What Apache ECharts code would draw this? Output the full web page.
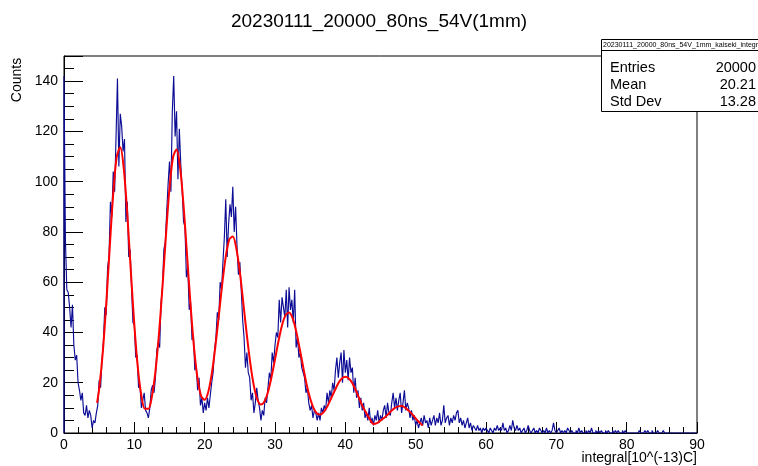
<!DOCTYPE html>
<html>
<head>
<meta charset="utf-8">
<script src="https://cdn.jsdelivr.net/npm/echarts@6/dist/echarts.min.js"></script>
<style>
html, body { margin: 0; padding: 0; background: #fff; }
#main { width: 758px; height: 466px; }
</style>
</head>
<body>
<div id="main"></div>
<script>
// histogram: bins of 0.2 starting at 0, counts
var binWidth = 0.2;

var counts0to10 = [
    142, 77, 57, 56, 50,  42, 51, 35, 29, 31,  20, 17, 13, 16, 8,  7, 11, 6, 9, 7,
    2, 5, 4, 8, 11,  21, 18, 29, 36, 50,  47, 66, 70, 92, 86,  104, 96, 118, 141, 106,
    127, 122, 112, 117, 84,  92, 70, 73, 58, 44
];
var counts10to20 = [
    43, 30, 31, 18, 19,  10, 13, 16, 9, 8,  6, 10, 17, 19, 16,  22, 33, 36, 34, 52,
    58, 73, 76, 88, 99,  108, 96, 128, 142, 118,  128, 101, 121, 107, 97,  84, 82, 62, 66, 49,
    52, 37, 39, 25, 27,  17, 22, 11, 14, 8
];
var counts20to30 = [
    12, 9, 14, 10, 15,  20, 24, 33, 38, 48,  45, 60, 57, 68, 78,  93, 70, 83, 91, 86,
    98, 80, 90, 74, 63,  68, 57, 45, 38, 26,  32, 24, 22, 13, 16,  8, 12, 18, 13, 10,
    5, 9, 7, 14, 12,  18, 24, 21, 32, 28
];
var counts30to40 = [
    35, 40, 38, 53, 44,  54, 50, 46, 57, 42,  58, 49, 53, 44, 57,  34, 38, 30, 32, 26,
    24, 22, 16, 18, 12,  9, 11, 6, 9, 8,  5, 8, 5, 10, 8,  11, 9, 16, 12, 17,
    14, 20, 17, 25, 30,  22, 28, 32, 20, 33
];
var counts40to50 = [
    24, 29, 21, 30, 24,  26, 16, 22, 14, 17,  10, 14, 9, 12, 6,  8, 5, 10, 4, 6,
    3, 7, 5, 9, 4,  7, 5, 9, 11, 6,  12, 8, 7, 12, 16,  10, 14, 9, 13, 16,
    8, 12, 17, 9, 12,  10, 6, 9, 5, 7
];
var counts50to60 = [
    3, 5, 2, 4, 6,  3, 7, 4, 5, 2,  6, 3, 5, 7, 3,  6, 4, 8, 3, 5,
    11, 4, 6, 7, 3,  6, 4, 7, 5, 8,  9, 4, 6, 3, 5,  2, 4, 6, 2, 4,
    1, 3, 2, 1, 3,  1, 2, 0, 2, 1
];
var counts60to70 = [
    2, 1, 0, 2, 1,  0, 2, 1, 3, 1,  2, 1, 4, 1, 2,  0, 1, 3, 1, 5,
    2, 1, 3, 1, 2,  0, 1, 2, 0, 1,  3, 1, 0, 1, 2,  0, 1, 0, 2, 1,
    0, 1, 0, 2, 0,  1, 0, 1, 4, 1
];
var counts70to80 = [
    0, 1, 2, 0, 1,  0, 1, 0, 2, 1,  0, 1, 0, 0, 1,  0, 2, 0, 1, 0,
    0, 1, 0, 1, 0,  2, 0, 0, 1, 0,  1, 0, 1, 0, 0,  1, 0, 1, 0, 0,
    1, 0, 1, 0, 1,  0, 0, 1, 0, 1
];
var counts80to90 = [
    0, 0, 0, 0, 0,  0, 0, 0, 0, 1,  0, 0, 0, 1, 0,  1, 0, 0, 1, 0,
    0, 0, 1, 0, 0,  0, 1, 0, 0, 0,  0, 0, 0, 0, 0,  0, 0, 0, 0, 0,
    0, 0, 0, 0, 0,  0, 0, 0, 0, 0
];

// red fit curve
var fitX = [4.7, 5, 5.5, 6, 6.5, 7, 7.5, 8, 8.5, 9, 9.5, 10, 10.5, 11, 11.5, 12, 12.5, 13, 13.5, 14,
    14.5, 15, 15.5, 16, 16.5, 17, 17.5, 18, 18.5, 19, 19.5, 20, 20.5, 21, 21.5, 22, 22.5, 23, 23.5, 24,
    24.5, 25, 25.5, 26, 26.5, 27, 27.5, 28, 28.5, 29, 29.5, 30, 30.5, 31, 31.5, 32, 32.5, 33, 33.5, 34,
    34.5, 35, 35.5, 36, 36.5, 37, 37.5, 38, 38.5, 39, 39.5, 40, 40.5, 41, 41.5, 42, 42.5, 43, 43.5, 44,
    44.5, 45, 45.5, 46, 46.5, 47, 47.5, 48, 48.5, 49, 49.5, 50, 50.5, 51];
var fitY = [12, 17.6, 31.7, 51.1, 73.7, 95.2, 110, 113.7, 105.2, 87.1, 64.5, 43, 25.9, 14.9, 9.6, 9.6, 14.5, 24.5, 39.3, 58.2,
    78.8, 97.4, 109.7, 112.8, 105.8, 90.5, 70.6, 50.7, 33.6, 21.4, 14.7, 13.2, 16.2, 23.4, 33.9, 46.4, 59.3, 70.2, 77, 78.2,
    73.5, 64, 51.6, 38.9, 27.5, 18.7, 13.3, 11.3, 12.5, 16.3, 22.2, 29.3, 36.6, 42.9, 46.9, 47.9, 45.7, 40.6, 33.7, 26.4,
    19.3, 13.7, 9.8, 7.7, 7.4, 8.6, 10.9, 13.9, 16.9, 19.8, 21.7, 22.4, 21.7, 19.8, 16.9, 13.6, 10.3, 7.9, 5.4, 3.6,
    3.9, 5, 6, 7.2, 8.7, 9.9, 10.6, 10.7, 10.1, 8.9, 7.5, 5.8, 4.3, 3];

var statNames = ['Entries', 'Mean', 'Std Dev'];
var statValues = ['20000', '20.21', '13.28'];
var histName = '20230111_20000_80ns_54V_1mm_kaiseki_integral';

var counts = counts0to10.concat(counts10to20, counts20to30, counts30to40, counts40to50,
    counts50to60, counts60to70, counts70to80, counts80to90);

var histData = [[0, 0]];
for (var i = 0; i < counts.length; i++) {
    histData.push([+(i * binWidth).toFixed(1), counts[i]]);
}
histData.push([90, counts[counts.length - 1]]);

var fitData = [];
for (var j = 0; j < fitX.length; j++) {
    fitData.push([fitX[j], fitY[j]]);
}

var font = 'Liberation Sans, Arial, sans-serif';

var chart = echarts.init(document.getElementById('main'));

var statGraphics = [
    {type: 'rect', shape: {x: 601.5, y: 39.5, width: 160, height: 72}, style: {fill: '#fff', stroke: '#000', lineWidth: 1}, z: 10},
    {type: 'line', shape: {x1: 601.5, y1: 50.5, x2: 760, y2: 50.5}, style: {stroke: '#000', lineWidth: 1}, z: 11},
    {type: 'text', x: 603, y: 45.5, z: 11, style: {text: histName, font: '7px ' + font, fill: '#000', verticalAlign: 'middle'}}
];
for (var k = 0; k < statNames.length; k++) {
    statGraphics.push({type: 'text', x: 610, y: 67.5 + k * 17.2, z: 11,
        style: {text: statNames[k], font: '14.5px ' + font, fill: '#000', verticalAlign: 'middle'}});
    statGraphics.push({type: 'text', x: 756, y: 67.5 + k * 17.2, z: 11,
        style: {text: statValues[k], font: '14.5px ' + font, fill: '#000', align: 'right', verticalAlign: 'middle'}});
}

var option = {
    animation: false,
    backgroundColor: '#fff',
    grid: {
        left: 64, right: 61, top: 56, bottom: 33,
        show: true, borderColor: '#000', borderWidth: 1, backgroundColor: 'transparent'
    },
    xAxis: {
        type: 'value', min: 0, max: 90, interval: 10,
        axisLine: {lineStyle: {color: '#000', width: 1}},
        axisTick: {inside: true, length: 11, lineStyle: {color: '#000'}},
        minorTick: {show: true, splitNumber: 5, length: 6, lineStyle: {color: '#000'}},
        splitLine: {show: false},
        axisLabel: {color: '#000', fontSize: 14, fontFamily: font, margin: 5}
    },
    yAxis: {
        type: 'value', min: 0, max: 150, interval: 20,
        axisLine: {show: true, lineStyle: {color: '#000', width: 1}},
        axisTick: {show: true, inside: true, length: 19, lineStyle: {color: '#000'}},
        minorTick: {show: true, splitNumber: 4, length: 10, lineStyle: {color: '#000'}},
        splitLine: {show: false},
        axisLabel: {color: '#000', fontSize: 14, fontFamily: font, margin: 6, showMaxLabel: false}
    },
    graphic: [
        {type: 'text', x: 379, y: 22, style: {text: '20230111_20000_80ns_54V(1mm)', font: '19px ' + font, fill: '#000', align: 'center', verticalAlign: 'middle'}},
        {type: 'text', x: 17, y: 80, rotation: Math.PI / 2, style: {text: 'Counts', font: '14px ' + font, fill: '#000', align: 'center', verticalAlign: 'middle'}},
        {type: 'text', x: 697, y: 458, style: {text: 'integral[10^(-13)C]', font: '14px ' + font, fill: '#000', align: 'right', verticalAlign: 'middle'}}
    ].concat(statGraphics),
    series: [
        {
            name: 'hist', type: 'line', step: 'end', data: histData,
            showSymbol: false, clip: true,
            lineStyle: {color: '#0c0c96', width: 1.15}, z: 2
        },
        {
            name: 'fit', type: 'line', data: fitData, smooth: 0.3,
            showSymbol: false,
            lineStyle: {color: '#ff0000', width: 2}, z: 3
        }
    ]
};
chart.setOption(option);
</script>
</body>
</html>
